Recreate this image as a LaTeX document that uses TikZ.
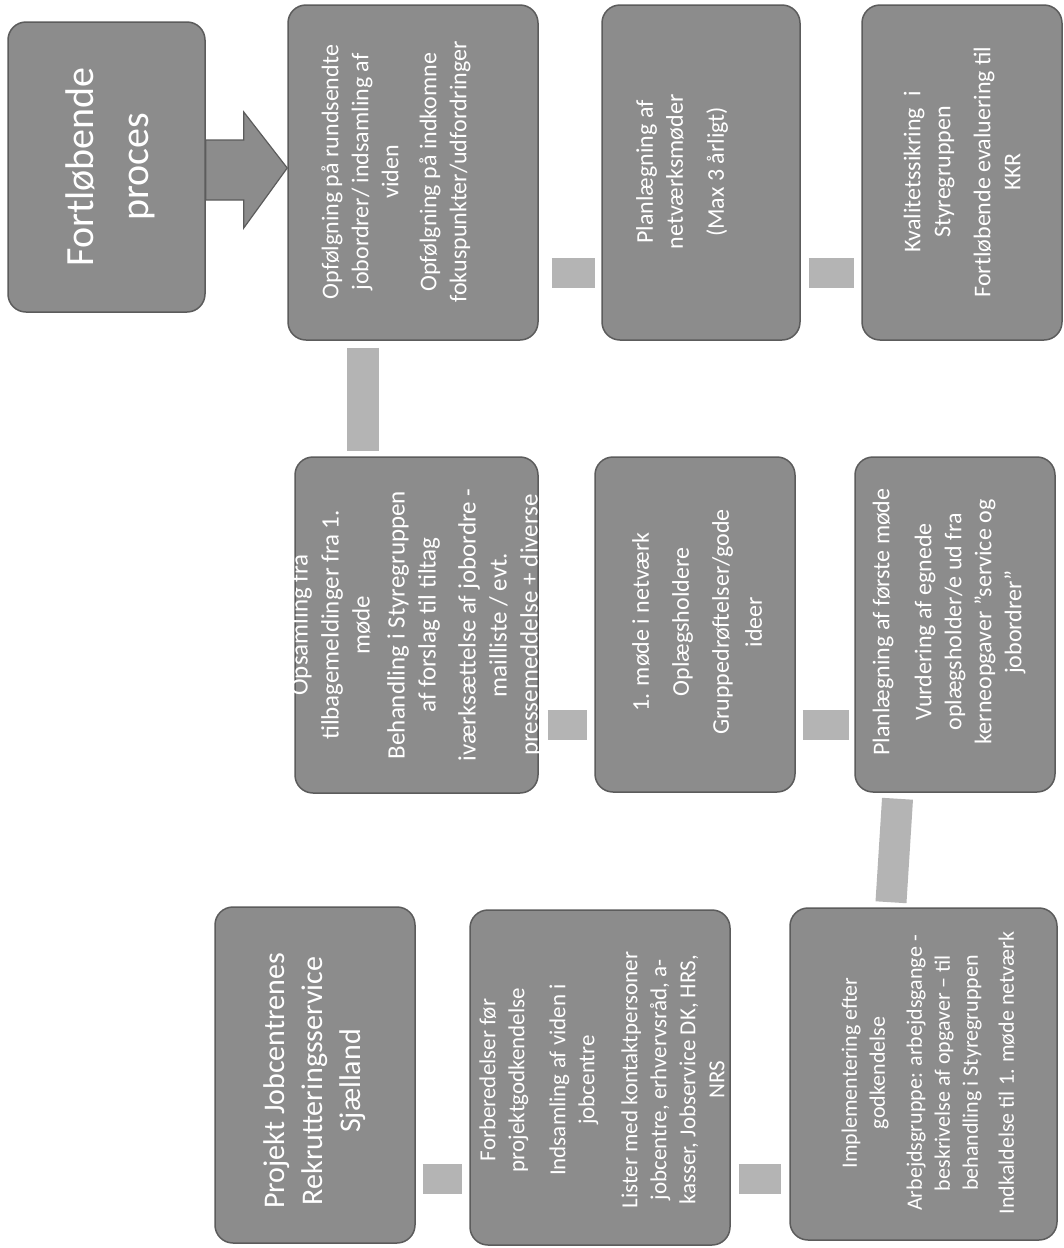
\documentclass[tikz,border=0pt]{standalone}
\usepackage{fontspec}
\setmainfont{Carlito}
\usetikzlibrary{calc}
\definecolor{boxgray}{RGB}{140,140,140}
\definecolor{boxedge}{RGB}{92,92,92}
\definecolor{conngray}{RGB}{180,180,180}
\begin{document}
\begin{tikzpicture}[x=1pt,y=-1pt,
  box/.style={draw=boxedge, line width=1.5pt, fill=boxgray, rounded corners=18pt, inner sep=0pt},
  txt/.style={rotate=90, text=white, align=center, inner sep=0pt},
  conn/.style={draw=conngray, line width=30pt}]
\useasboundingbox (0,0) rectangle (1064,1248);
\fill[white] (0,0) rectangle (1064,1248);

% boxes
\node[box, minimum width=197pt, minimum height=290pt] (b1) at (106.5,167) {};
\node[box, minimum width=250pt, minimum height=335pt] (b2) at (413,172.5) {};
\node[box, minimum width=198pt, minimum height=335pt] (b3) at (701,172.5) {};
\node[box, minimum width=200pt, minimum height=335pt] (b4) at (962,172.5) {};
\node[box, minimum width=243pt, minimum height=336pt] (b5) at (416.5,625) {};
\node[box, minimum width=200pt, minimum height=335pt] (b6) at (695,624.5) {};
\node[box, minimum width=200pt, minimum height=335pt] (b7) at (955,624.5) {};
\node[box, minimum width=200pt, minimum height=336pt] (b8) at (315,1075) {};
\node[box, minimum width=260pt, minimum height=335pt] (b9) at (600,1077.5) {};
\node[box, minimum width=267pt, minimum height=332pt] (b10) at (923.5,1074) {};

% texts
\node[txt, font=\fontsize{40}{55}\selectfont] (t1) at (110,167) {Fortløbende\\proces};
\node[txt, font=\fontsize{24}{30}\selectfont] (t2) at (396,172)
  {Opfølgning på rundsendte\\jobordrer/ indsamling af\\viden\\[8pt]Opfølgning på indkomne\\fokuspunkter/udfordringer};
\node[txt, font=\fontsize{24}{30}\selectfont] (t3) at (682,172)
  {Planlægning af\\netværksmøder\\[11pt](Max 3 årligt)};
\node[txt, font=\fontsize{24}{30}\selectfont] (t4) at (962,172)
  {Kvalitetssikring\ \ i\\Styregruppen\\[10pt]Fortløbende evaluering til\\KKR};
\node[txt, font=\fontsize{25}{31}\selectfont] (t5) at (416,625)
  {Opsamling fra\\tilbagemeldinger fra 1.\\møde\\[4pt]Behandling i Styregruppen\\af forslag til tiltag\\[9pt]iværksættelse af jobordre -\\mailliste / evt.\\pressemeddelse + diverse};
\node[txt, font=\fontsize{24}{33}\selectfont] (t6) at (697,622)
  {1. møde i netværk\\[7pt]Oplægsholdere\\[7pt]Gruppedrøftelser/gode\\ideer};
\node[txt, font=\fontsize{24}{30}\selectfont] (t7) at (949,622)
  {Planlægning af første møde\\[12pt]Vurdering af egnede\\oplægsholder/e ud fra\\kerneopgaver ”service og\\jobordrer”};
\node[txt, font=\fontsize{30}{38}\selectfont] (t8) at (315,1081)
  {Projekt Jobcentrenes\\Rekrutteringsservice\\Sjælland};
\node[txt, font=\fontsize{23}{29}\selectfont] (t9) at (602,1080)
  {Forberedelser før\\projektgodkendelse\\[12pt]Indsamling af viden i\\jobcentre\\[14pt]Lister med kontaktpersoner\\jobcentre, erhvervsråd, a-\\kasser, Jobservice DK, HRS,\\NRS};
\node[txt, font=\fontsize{22}{28}\selectfont] (t10) at (928,1073)
  {Implementering efter\\godkendelse\\[9pt]Arbejdsgruppe: arbejdsgange -\\beskrivelse af opgaver – til\\behandling i Styregruppen\\[8pt]Indkaldelse til 1. møde netværk};

% block arrow
\draw[boxedge, line width=1.2pt, fill=boxgray]
  ([shift={(0,-27)}]b1.east) -- ([shift={(38,-27)}]b1.east) -- ([shift={(38,-55)}]b1.east)
  -- ([shift={(0,-4.5)}]b2.west) -- ([shift={(38,61)}]b1.east) -- ([shift={(38,33)}]b1.east)
  -- ([shift={(0,33)}]b1.east) -- cycle;

% connectors
\draw[conn] ([shift={(13,100.5)}]b2.east) -- ([shift={(-6,100.5)}]b3.west);
\draw[conn] ([shift={(8,100.5)}]b3.east) -- ([shift={(-7,100.5)}]b4.west);
\draw[conn, line width=32pt] ([shift={(-50,7)}]b2.south) -- ([shift={(-53.5,-5)}]b5.north);
\draw[conn] ([shift={(9,100)}]b5.east) -- ([shift={(-7,100.5)}]b6.west);
\draw[conn] ([shift={(7,100.5)}]b6.east) -- ([shift={(-5,100.5)}]b7.west);
\draw[conn, line width=31pt] ([shift={(-57.5,6)}]b7.south) -- ([shift={(-32.5,-5)}]b10.north);
\draw[conn] ([shift={(7,104)}]b8.east) -- ([shift={(-7,101.5)}]b9.west);
\draw[conn] ([shift={(8,101.5)}]b9.east) -- ([shift={(-8,105)}]b10.west);
\end{tikzpicture}
\end{document}
